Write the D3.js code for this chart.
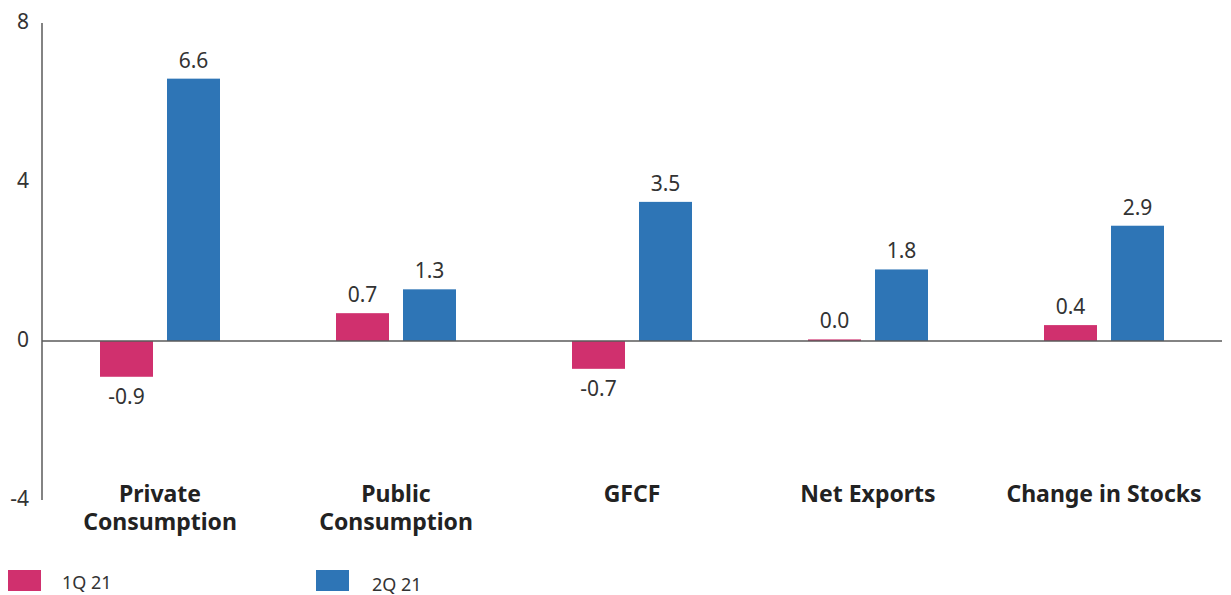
<!DOCTYPE html>
<html>
<head>
<meta charset="utf-8">
<script src="https://cdn.jsdelivr.net/npm/d3@7"></script>
<style>
  body { margin: 0; background: #fff; }
  text { font-family: "Noto Sans", "Open Sans", sans-serif; }
</style>
</head>
<body>
<div id="chart"></div>
<script>
// chart data
var categories = [["Private", "Consumption"], ["Public", "Consumption"], ["GFCF"], ["Net Exports"], ["Change in Stocks"]];
var seriesNames = ["1Q 21", "2Q 21"];
var q1Values = [-0.9, 0.7, -0.7, 0.04, 0.4];
var q2Values = [6.6, 1.3, 3.5, 1.8, 2.9];
var yTicks = [-4, 0, 4, 8];
var colors = ["#D0306E", "#2E75B6"];

function drawChart() {
	var W = 1231, H = 595;
	var svg = d3.select("#chart").append("svg")
		.attr("width", W)
		.attr("height", H);

	var keys = categories.map(function(c) { return c.join(" "); });

	var x0 = d3.scaleBand().domain(keys).range([42, 1222]);
	var x1 = d3.scaleBand().domain(seriesNames).range([-60, 60]).paddingInner(14 / 67);
	var y = d3.scaleLinear().domain([-4, 8]).range([500, 23]);

	// y axis line
	svg.append("line")
		.attr("x1", 42).attr("x2", 42)
		.attr("y1", y(8)).attr("y2", y(-4))
		.attr("stroke", "#5a5a5a").attr("stroke-width", 1.5);

	// y tick labels
	svg.selectAll("text.ytick")
		.data(yTicks)
		.enter()
		.append("text")
		.attr("class", "ytick")
		.attr("x", 29)
		.attr("y", function(d) { return y(d) + 6; })
		.attr("text-anchor", "end")
		.attr("font-size", 21)
		.attr("fill", "#333")
		.text(function(d) { return d; });

	var rows = [];
	keys.forEach(function(k, i) {
		rows.push({cat: k, s: seriesNames[0], v: q1Values[i], c: colors[0]});
		rows.push({cat: k, s: seriesNames[1], v: q2Values[i], c: colors[1]});
	});

	// bars
	svg.selectAll("rect.bar")
		.data(rows)
		.enter()
		.append("rect")
		.attr("class", "bar")
		.attr("x", function(d) { return x0(d.cat) + x0.bandwidth() / 2 + x1(d.s); })
		.attr("width", x1.bandwidth())
		.attr("y", function(d) { return y(Math.max(0, d.v)); })
		.attr("height", function(d) { return Math.abs(y(d.v) - y(0)); })
		.attr("fill", function(d) { return d.c; });

	// zero line
	svg.append("line")
		.attr("x1", 42).attr("x2", 1222)
		.attr("y1", y(0)).attr("y2", y(0))
		.attr("stroke", "#5a5a5a").attr("stroke-width", 1.5);

	// value labels
	svg.selectAll("text.val")
		.data(rows)
		.enter()
		.append("text")
		.attr("class", "val")
		.attr("x", function(d) { return x0(d.cat) + x0.bandwidth() / 2 + x1(d.s) + x1.bandwidth() / 2; })
		.attr("y", function(d) { return d.v < 0 ? y(d.v) + 27 : y(d.v) - 11; })
		.attr("text-anchor", "middle")
		.attr("font-size", 21)
		.attr("fill", "#333")
		.text(function(d) { return d3.format(".1f")(d.v).replace("−", "-"); });

	// category labels, each line its own text so lines stay apart
	categories.forEach(function(lines, ci) {
		var cx = x0(keys[ci]) + x0.bandwidth() / 2;
		lines.forEach(function(line, li) {
			var t = svg.append("text")
				.attr("class", "cat")
				.attr("x", cx)
				.attr("y", 502 + li * 28)
				.attr("text-anchor", "middle")
				.attr("font-size", 23)
				.attr("font-weight", "bold")
				.attr("fill", "#222")
				.text(line);
			// keep the last label inside the right edge
			var half = t.node().getComputedTextLength() / 2;
			if (cx + half > 1220) t.attr("x", 1220 - half);
		});
	});

	// legend
	var legX = [8, 316];
	var leg = svg.selectAll("g.leg")
		.data(seriesNames)
		.enter()
		.append("g")
		.attr("class", "leg")
		.attr("transform", function(d, i) { return "translate(" + legX[i] + ",570)"; });
	leg.append("rect")
		.attr("width", 33).attr("height", 21)
		.attr("fill", function(d, i) { return colors[i]; });
	leg.append("text")
		.attr("x", function(d, i) { return i === 0 ? 54 : 56; })
		.attr("y", function(d, i) { return i === 0 ? 19 : 21; })
		.attr("font-size", 18)
		.attr("fill", "#333")
		.text(function(d) { return d; });
}

drawChart();
</script>
</body>
</html>
